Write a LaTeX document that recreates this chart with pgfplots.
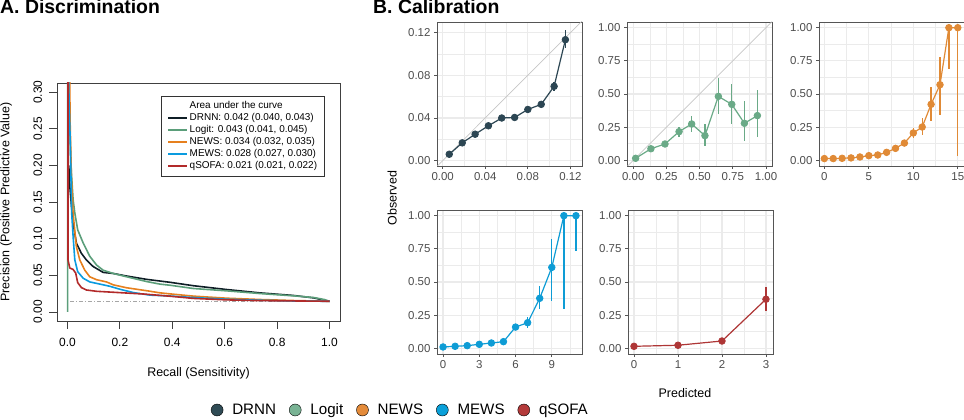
\documentclass[border=0pt]{standalone}
\usepackage{pgfplots}
\pgfplotsset{compat=1.18}
\usepackage{fontspec}
\setmainfont{Liberation Sans}

\definecolor{aDRNN}{HTML}{0F1E26}
\definecolor{aLogit}{HTML}{5B9E7A}
\definecolor{aNEWS}{HTML}{E6801E}
\definecolor{aMEWS}{HTML}{0A9BDF}
\definecolor{aqSOFA}{HTML}{B22A2A}
\definecolor{bDRNN}{HTML}{2C4653}
\definecolor{bLogit}{HTML}{6AAA87}
\definecolor{bNEWS}{HTML}{E08A36}
\definecolor{bMEWS}{HTML}{0E9CD5}
\definecolor{bqSOFA}{HTML}{AE3636}
\definecolor{lDRNN}{HTML}{2F4B55}
\definecolor{lLogit}{HTML}{79B394}
\definecolor{lNEWS}{HTML}{E48B3A}
\definecolor{lMEWS}{HTML}{0AA0D9}
\definecolor{lqSOFA}{HTML}{B43A3A}
\definecolor{gridc}{HTML}{EBEBEB}
\definecolor{borderc}{HTML}{555555}
\definecolor{tickc}{HTML}{4D4D4D}

\pgfplotsset{
  calib/.style={
    scale only axis, width=145bp, height=144bp, anchor=south west,
    grid=both,
    major grid style={color=gridc, line width=1.1bp},
    minor grid style={color=gridc, line width=0.55bp},
    axis line style={color=borderc, line width=0.9bp},
    tick style={color=borderc, line width=0.8bp},
    tick align=outside, major tick length=3bp, minor tick length=0bp,
    xtick pos=left, ytick pos=left,
    ticklabel style={font=\fontsize{11.5}{13}\selectfont, color=tickc},
    /pgf/number format/assume math mode=true,
  },
  cplot/.style={color=#1, mark=*, mark size=3.3bp, line width=1.2bp, mark options={solid, line width=0.8bp},
    error bars/.cd, y dir=both, y explicit, error mark=none,
    error bar style={line width=1.3bp, solid}},
}

\begin{document}
\begin{tikzpicture}
\useasboundingbox (0bp,0bp) rectangle (964bp,420bp);
\node[anchor=base west, font=\fontsize{19.5}{22}\selectfont\bfseries, inner sep=0pt] at (0bp,406bp) {A. Discrimination};
\node[anchor=base west, font=\fontsize{19.5}{22}\selectfont\bfseries, inner sep=0pt] at (373bp,406bp) {B. Calibration};

% ---------------- Panel A ----------------
\begin{axis}[
  scale only axis, width=283bp, height=238bp, at={(57bp,99bp)}, anchor=south west,
  xmin=-0.04, xmax=1.04, ymin=-0.0123, ymax=0.3123,
  xtick={0,0.2,0.4,0.6,0.8,1}, xticklabels={0.0,0.2,0.4,0.6,0.8,1.0},
  ytick={0,0.05,0.1,0.15,0.2,0.25,0.3}, yticklabels={0.00,0.05,0.10,0.15,0.20,0.25,0.30},
  tick align=outside, major tick length=7.5bp, xtick pos=left, ytick pos=left,
  axis line style={black!75, line width=0.9bp}, tick style={black!75, line width=0.9bp},
  ticklabel style={font=\fontsize{12}{14}\selectfont},
  xticklabel style={yshift=-6bp},
  yticklabel style={xshift=-4bp, rotate=90, anchor=south},
  /pgf/number format/assume math mode=true,
  xlabel={Recall (Sensitivity)}, ylabel={Precision (Positive Predictive Value)},
  label style={font=\fontsize{12.5}{14}\selectfont},
  xlabel style={at={(0.5,-0.218)}, anchor=center},
  ylabel style={at={(-0.180,0.5)}, anchor=center},
  legend style={at={(0.947,0.945)}, anchor=north east, draw=black!80, line width=0.8bp, fill=white,
    font=\fontsize{10}{12}\selectfont, inner xsep=6bp, inner ysep=5bp,
    nodes={inner xsep=1.5bp, inner ysep=0bp, text height=7.2bp, text depth=2.3bp},
    row sep=2.5bp},
  legend cell align=left,
  legend image code/.code={\draw[#1, line width=1.6bp] (0bp,0bp) -- (19bp,0bp);},
]
\addlegendimage{empty legend}
\addlegendentry{Area under the curve\rule[-6bp]{0pt}{1bp}}
\addplot[color=gray!70, line width=1bp, dash pattern=on 4bp off 2bp on 1bp off 2bp, forget plot]
  coordinates {(0.009,0.0146) (1,0.0146)};
\addplot[color=aDRNN, line width=1.6bp, mark=none] coordinates {
(0.005,0.20) (0.009,0.171) (0.0153,0.144) (0.0215,0.121) (0.034,0.094) (0.053,0.080) (0.072,0.071)
(0.098,0.062) (0.136,0.054) (0.175,0.0525) (0.226,0.049) (0.302,0.0445) (0.391,0.0405) (0.481,0.0358)
(0.608,0.0306) (0.736,0.026) (0.863,0.0225) (0.94,0.0192) (1.0,0.0146)};
\addlegendentry{DRNN: 0.042 (0.040, 0.043)}
\addplot[color=aLogit, line width=1.6bp, mark=none] coordinates {
(0.0005,0.0) (0.0005,0.35) (0.004,0.35) (0.006,0.29) (0.0126,0.203) (0.0215,0.153) (0.028,0.135)
(0.039,0.112) (0.060,0.094) (0.085,0.076) (0.111,0.064) (0.136,0.057) (0.175,0.0525) (0.226,0.048)
(0.302,0.0415) (0.353,0.038) (0.391,0.0365) (0.481,0.032) (0.608,0.0288) (0.736,0.0251) (0.863,0.022)
(0.94,0.0197) (0.98,0.017) (1.0,0.0146)};
\addlegendentry{Logit: 0.043 (0.041, 0.045)}
\addplot[color=aNEWS, line width=1.6bp, mark=none] coordinates {
(0.008,0.35) (0.010,0.26) (0.0153,0.180) (0.0215,0.134) (0.034,0.089) (0.047,0.071) (0.066,0.057)
(0.085,0.048) (0.111,0.044) (0.149,0.041) (0.175,0.037) (0.226,0.033) (0.302,0.029) (0.353,0.0261)
(0.391,0.0247) (0.481,0.0216) (0.608,0.0188) (0.736,0.017) (0.863,0.0156) (1.0,0.0146)};
\addlegendentry{NEWS: 0.034 (0.032, 0.035)}
\addplot[color=aMEWS, line width=1.6bp, mark=none] coordinates {
(0.003,0.35) (0.006,0.29) (0.011,0.226) (0.016,0.135) (0.0215,0.103) (0.028,0.071) (0.039,0.055)
(0.060,0.046) (0.085,0.041) (0.124,0.038) (0.162,0.035) (0.2,0.031) (0.251,0.0265) (0.315,0.023)
(0.391,0.0218) (0.481,0.0197) (0.608,0.0174) (0.736,0.016) (0.863,0.015) (1.0,0.0146)};
\addlegendentry{MEWS: 0.028 (0.027, 0.030)}
\addplot[color=aqSOFA, line width=1.6bp, mark=none] coordinates {
(0.002,0.35) (0.002,0.071) (0.0089,0.060) (0.0215,0.058) (0.0314,0.053) (0.039,0.040) (0.053,0.0333)
(0.072,0.030) (0.111,0.0282) (0.175,0.0269) (0.29,0.0245) (0.391,0.0215) (0.481,0.0185) (0.608,0.0165)
(0.736,0.0155) (1.0,0.0146)};
\addlegendentry{qSOFA: 0.021 (0.021, 0.022)}
\end{axis}

% ---------------- Panel B ----------------
% DRNN
\begin{axis}[calib, at={(437bp,254bp)},
  xmin=-0.0053, xmax=0.1309, ymin=-0.005, ymax=0.130,
  xtick={0,0.04,0.08,0.12}, xticklabels={0.00,0.04,0.08,0.12}, minor xtick={0.02,0.06,0.10},
  ytick={0,0.04,0.08,0.12}, yticklabels={0.00,0.04,0.08,0.12}, minor ytick={0.02,0.06,0.10}]
\addplot[color=gray!45, line width=0.7bp, forget plot] coordinates {(-0.1,-0.1) (0.2,0.2)};
\addplot[cplot=bDRNN] coordinates {
(0.0062,0.0060) +- (0,0.0012)
(0.0184,0.0167) +- (0,0.0012)
(0.0305,0.0248) +- (0,0.0012)
(0.0430,0.0327) +- (0,0.0012)
(0.0555,0.0400) +- (0,0.0012)
(0.0676,0.0405) +- (0,0.0012)
(0.0800,0.0480) +- (0,0.0015)
(0.0926,0.0528) +- (0,0.0030)
(0.1047,0.0697) += (0,0.0045) -= (0,0.0040)
(0.1153,0.1134) += (0,0.0090) -= (0,0.0080)};
\end{axis}

% Logit
\begin{axis}[calib, at={(627bp,254bp)},
  xmin=-0.047, xmax=1.045, ymin=-0.043, ymax=1.043,
  xtick={0,0.25,0.5,0.75,1}, xticklabels={0.00,0.25,0.50,0.75,1.00}, minor xtick={0.125,0.375,0.625,0.875},
  ytick={0,0.25,0.5,0.75,1}, yticklabels={0.00,0.25,0.50,0.75,1.00}, minor ytick={0.125,0.375,0.625,0.875}]
\addplot[color=gray!45, line width=0.7bp, forget plot] coordinates {(-0.2,-0.2) (1.2,1.2)};
\addplot[cplot=bLogit] coordinates {
(0.018,0.015) +- (0,0.005)
(0.133,0.087) +- (0,0.010)
(0.239,0.123) +- (0,0.012)
(0.345,0.216) +- (0,0.038)
(0.440,0.274) +- (0,0.063)
(0.540,0.186) += (0,0.088) -= (0,0.076)
(0.641,0.482) += (0,0.136) -= (0,0.133)
(0.742,0.422) += (0,0.156) -= (0,0.151)
(0.837,0.279) += (0,0.171) -= (0,0.133)
(0.935,0.337) += (0,0.193) -= (0,0.159)};
\end{axis}

% NEWS
\begin{axis}[calib, at={(819bp,254bp)},
  xmin=-0.6, xmax=15.7, ymin=-0.043, ymax=1.043,
  xtick={0,5,10,15}, xticklabels={0,5,10,15}, minor xtick={2.5,7.5,12.5},
  ytick={0,0.25,0.5,0.75,1}, yticklabels={0.00,0.25,0.50,0.75,1.00}, minor ytick={0.125,0.375,0.625,0.875}]
\addplot[cplot=bNEWS] coordinates {
(0,0.013) (1,0.013) (2,0.015) (3,0.018) (4,0.025) (5,0.035) (6,0.040) (7,0.060) (8,0.090)
(9,0.130) +- (0,0.012)
(10,0.206) += (0,0.034) -= (0,0.036)
(11,0.251) += (0,0.069) -= (0,0.061)
(12,0.422) += (0,0.128) -= (0,0.122)
(13,0.570) += (0,0.210) -= (0,0.230)
(14,1.0) += (0,0) -= (0,0.31)
(15,1.0) += (0,0) -= (0,0.97)};
\end{axis}

% MEWS
\begin{axis}[calib, at={(437bp,66bp)},
  xmin=-0.5, xmax=11.5, ymin=-0.043, ymax=1.043,
  xtick={0,3,6,9}, xticklabels={0,3,6,9}, minor xtick={1.5,4.5,7.5,10.5},
  ytick={0,0.25,0.5,0.75,1}, yticklabels={0.00,0.25,0.50,0.75,1.00}, minor ytick={0.125,0.375,0.625,0.875},
  ylabel={Observed},
  ylabel style={at={(-0.310,1.083)}, anchor=center, font=\fontsize{12.5}{14}\selectfont}]
\addplot[cplot=bMEWS] coordinates {
(0,0.010) (1,0.015) (2,0.020) (3,0.030) (4,0.040) (5,0.050)
(6,0.160) +- (0,0.012)
(7,0.193) += (0,0.041) -= (0,0.042)
(8,0.377) += (0,0.090) -= (0,0.083)
(9,0.610) += (0,0.214) -= (0,0.251)
(10,1.0) += (0,0) -= (0,0.706)
(11,1.0) += (0,0) -= (0,0.266)};
\end{axis}

% qSOFA
\begin{axis}[calib, at={(628bp,66bp)},
  xmin=-0.136, xmax=3.16, ymin=-0.043, ymax=1.043,
  xtick={0,1,2,3}, xticklabels={0,1,2,3}, minor xtick={0.5,1.5,2.5},
  ytick={0,0.25,0.5,0.75,1}, yticklabels={0.00,0.25,0.50,0.75,1.00}, minor ytick={0.125,0.375,0.625,0.875},
  xlabel={Predicted},
  xlabel style={at={(0.393,-0.271)}, anchor=center, font=\fontsize{12.5}{14}\selectfont}]
\addplot[cplot=bqSOFA] coordinates {
(0,0.015) (1,0.023) (2,0.055)
(3,0.370) += (0,0.090) -= (0,0.087)};
\end{axis}

% ---------------- bottom legend ----------------
\begin{axis}[hide axis, scale only axis, width=100bp, height=100bp, at={(0bp,0bp)}, anchor=south west,
  xmin=0, xmax=1, ymin=0, ymax=1,
  legend columns=5,
  legend style={at={(2.107,0.10)}, anchor=west, draw=none, fill=none, inner sep=0pt,
    font=\fontsize{15.2}{18}\selectfont, nodes={inner sep=0pt},
    /tikz/every odd column/.append style={column sep=9bp},
    /tikz/every even column/.append style={column sep=13bp}},
  legend image code/.code={\fill[#1] (6bp,0bp) circle (6bp);}]
\addlegendimage{fill=lDRNN}\addlegendentry{DRNN}
\addlegendimage{fill=lLogit}\addlegendentry{Logit}
\addlegendimage{fill=lNEWS}\addlegendentry{NEWS}
\addlegendimage{fill=lMEWS}\addlegendentry{MEWS}
\addlegendimage{fill=lqSOFA}\addlegendentry{qSOFA}
\end{axis}
\end{tikzpicture}
\end{document}
